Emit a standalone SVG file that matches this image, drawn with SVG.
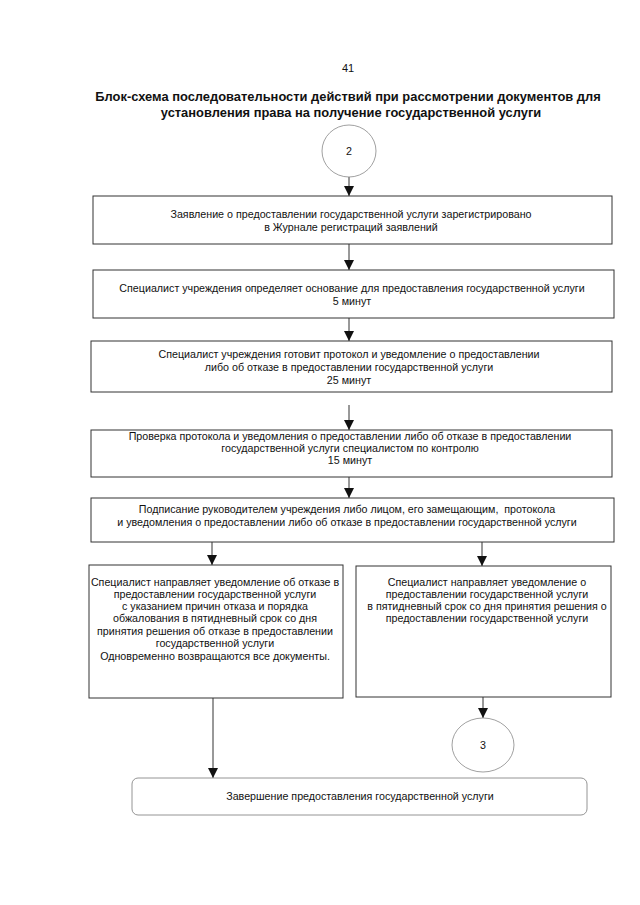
<svg xmlns="http://www.w3.org/2000/svg" width="640" height="905" viewBox="0 0 640 905">
<defs>
<style>
.t{font-family:"Liberation Sans",Arial,sans-serif;font-size:10.7px;fill:#111;text-anchor:middle}
.h{font-family:"Liberation Sans",Arial,sans-serif;font-size:12.9px;font-weight:bold;fill:#111;text-anchor:middle}
.b{fill:#fff;stroke:#333;stroke-width:1}
.c{fill:#fff;stroke:#888;stroke-width:0.8}
.r{fill:#fff;stroke:#888;stroke-width:0.9}
.l{stroke:#333;stroke-width:1;fill:none;marker-end:url(#a)}
</style>
<marker id="a" markerWidth="10" markerHeight="10" refX="10" refY="5" orient="auto" markerUnits="userSpaceOnUse" viewBox="0 0 10 10">
<path d="M0,0 L10,5 L0,10 Z" fill="#111"/>
</marker>
</defs>
<rect width="640" height="905" fill="#fff"/>
<text class="t" x="348" y="72" style="font-size:11px">41</text>
<text class="h" x="348" y="101">Блок-схема последовательности действий при рассмотрении документов для</text>
<text class="h" x="351" y="117">установления права на получение государственной услуги</text>

<g id="connectors">
<line class="l" x1="349" y1="177" x2="349" y2="196"/>
<line class="l" x1="349" y1="244" x2="349" y2="270"/>
<line class="l" x1="349" y1="318" x2="349" y2="341"/>
<line class="l" x1="349" y1="405" x2="349" y2="430"/>
<line class="l" x1="349" y1="477" x2="349" y2="498"/>
<line class="l" x1="212" y1="542" x2="212" y2="565"/>
<line class="l" x1="482" y1="542" x2="482" y2="566"/>
<line class="l" x1="213" y1="698" x2="213" y2="778"/>
<line class="l" x1="483" y1="697" x2="483" y2="718"/>
</g>

<g id="start2">
<ellipse class="c" cx="349" cy="151" rx="27" ry="26"/>
<text class="t" x="349" y="155">2</text>
</g>

<g id="box1">
<rect class="b" x="93" y="196" width="519" height="48"/>
<text class="t" x="351" y="218">Заявление о предоставлении государственной услуги зарегистрировано</text>
<text class="t" x="351" y="231">в Журнале регистраций заявлений</text>
</g>

<g id="box2">
<rect class="b" x="93" y="270" width="521" height="48"/>
<text class="t" x="352" y="292">Специалист учреждения определяет основание для предоставления государственной услуги</text>
<text class="t" x="352" y="305">5 минут</text>
</g>

<g id="box3">
<rect class="b" x="91" y="341" width="521" height="51"/>
<text class="t" x="349" y="358">Специалист учреждения готовит протокол и уведомление о предоставлении</text>
<text class="t" x="349" y="371">либо об отказе в предоставлении государственной услуги</text>
<text class="t" x="349" y="384">25 минут</text>
</g>

<g id="box4">
<rect class="b" x="91" y="430" width="521" height="47"/>
<text class="t" x="350" y="440">Проверка протокола и уведомления о предоставлении либо об отказе в предоставлении</text>
<text class="t" x="350" y="452">государственной услуги специалистом по контролю</text>
<text class="t" x="350" y="464">15 минут</text>
</g>

<g id="box5">
<rect class="b" x="91" y="498" width="523" height="44"/>
<text class="t" x="347" y="513">Подписание руководителем учреждения либо лицом, его замещающим,&#160; протокола</text>
<text class="t" x="347" y="526">и уведомления о предоставлении либо об отказе в предоставлении государственной услуги</text>
</g>

<g id="boxLeft">
<rect class="b" x="89" y="565" width="254" height="133"/>
<text class="t" x="215" y="586">Специалист направляет уведомление об отказе в</text>
<text class="t" x="215" y="598">предоставлении государственной услуги</text>
<text class="t" x="215" y="610">с указанием причин отказа и порядка</text>
<text class="t" x="215" y="622">обжалования в пятидневный срок со дня</text>
<text class="t" x="215" y="635">принятия решения об отказе в предоставлении</text>
<text class="t" x="215" y="647">государственной услуги</text>
<text class="t" x="215" y="660">Одновременно возвращаются все документы.</text>
</g>

<g id="boxRight">
<rect class="b" x="356" y="566" width="255" height="131"/>
<text class="t" x="487" y="586">Специалист направляет уведомление о</text>
<text class="t" x="487" y="598">предоставлении государственной услуги</text>
<text class="t" x="487" y="610">в пятидневный срок со дня принятия решения о</text>
<text class="t" x="487" y="622">предоставлении государственной услуги</text>
</g>

<g id="end3">
<ellipse class="c" cx="483" cy="745" rx="31" ry="27"/>
<text class="t" x="483" y="749">3</text>
</g>

<g id="final">
<rect class="r" x="132" y="778" width="455" height="37" rx="6" ry="6"/>
<text class="t" x="360" y="800">Завершение предоставления государственной услуги</text>
</g>
</svg>
